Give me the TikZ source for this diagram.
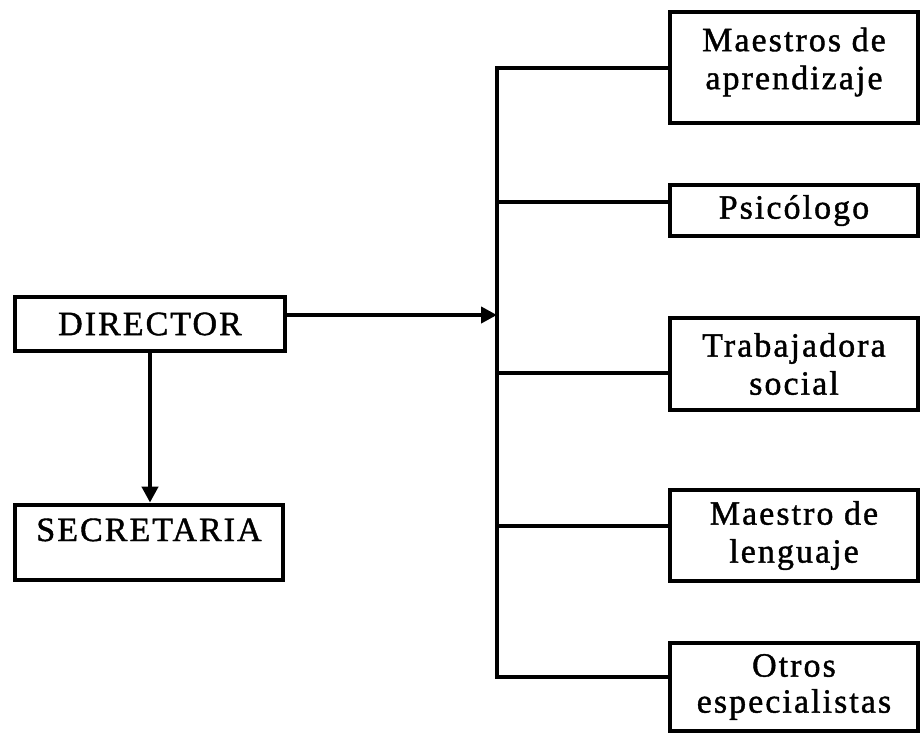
\documentclass[tikz,border=0pt]{standalone}
\usepackage{fontspec}
\setmainfont{Liberation Serif}[LetterSpace=6,FakeBold=1.2]
\usetikzlibrary{arrows.meta}

\tikzset{
	caja/.style={draw,line width=2.4pt,inner sep=0pt,align=center,font=\fontsize{17}{19}\selectfont},
	rama/.style={line width=2.1pt},
	flecha/.style={rama,-{Triangle[length=8pt,width=8pt]}},
}

\begin{document}
\begin{tikzpicture}[x=0.5pt,y=-0.5pt]
				\useasboundingbox (0,0) rectangle (922,735);
				\node[caja,minimum width=135pt,minimum height=27pt] (dir) at (150,324) {DIRECTOR};
				\node[caja,minimum width=134pt,text height=18pt,text depth=19.5pt] (sec) at (149,542.5) {SECRETARIA};
				\node[caja,minimum width=124pt,text height=38.6pt,text depth=16.9pt] (mae) at (794,67.5) {Maestros de\\aprendizaje};
				\node[caja,minimum width=124pt,minimum height=25.5pt] (psi) at (794,210.5) {Psicólogo};
				\node[caja,minimum width=124pt,minimum height=46pt] (tra) at (794,364) {Trabajadora\\social};
				\node[caja,minimum width=124pt,minimum height=45.5pt] (len) at (794,535.5) {Maestro de\\lenguaje};
				\node[caja,minimum width=124pt,minimum height=44pt,font=\fontsize{17}{18}\selectfont] (otr) at (794,687) {Otros\\especialistas};
				\coordinate (b1) at (497,68);
				\coordinate (b2) at (497,202);
				\coordinate (b3) at (497,373);
				\coordinate (b4) at (497,526);
				\coordinate (b5) at (497,677);
				\coordinate (hub) at (497,315);
				\draw[rama] (mae.west |- b1) -- (b1) -- (b5) -- (otr.west |- b5);
				\draw[rama] (b2) -- (psi.west |- b2);
				\draw[rama] (b3) -- (tra.west |- b3);
				\draw[rama] (b4) -- (len.west |- b4);
				\draw[flecha] (dir.east |- hub) -- (hub);
				\draw[flecha] (dir.south) -- (dir.south |- sec.north);
			\end{tikzpicture}
\end{document}
